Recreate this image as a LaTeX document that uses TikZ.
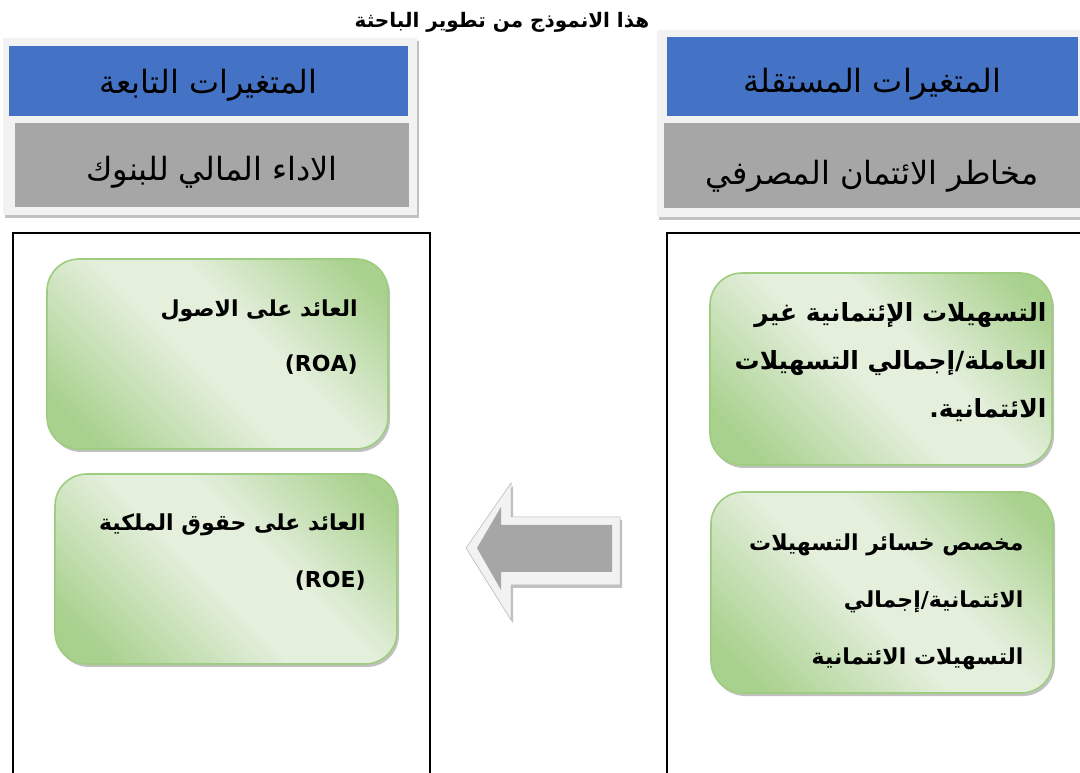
\documentclass[tikz,border=0pt]{standalone}
\usepackage{fontspec}
\usepackage{tikz}
\usetikzlibrary{positioning,shadows,calc}
\newfontfamily\arabicfont[Script=Arabic]{DejaVu Sans}
\TeXXeTstate=1
\newcommand{\ar}[1]{\beginR #1\endR}
\definecolor{hdrblue}{HTML}{4472C4}
\definecolor{hdrgray}{HTML}{A6A6A6}
\definecolor{panel}{HTML}{F2F2F2}
\definecolor{grdark}{HTML}{A9D18E}
\definecolor{grlight}{HTML}{E4EFDC}
\definecolor{grline}{HTML}{9FCD80}
\definecolor{arrowgray}{HTML}{A6A6A6}
\pgfdeclarehorizontalshading{greenglow}{100bp}{color(0bp)=(grdark); color(22bp)=(grdark); color(46bp)=(grlight); color(58bp)=(grlight); color(80bp)=(grdark); color(100bp)=(grdark)}
\tikzset{
  headpanel/.style={fill=panel,drop shadow={shadow xshift=2pt,shadow yshift=-3pt,fill=gray!70,opacity=0.7}},
  bluehead/.style={fill=hdrblue,inner sep=0pt,text depth=0pt,font=\arabicfont\fontsize{32}{38}\selectfont},
  grayhead/.style={fill=hdrgray,inner sep=0pt,text depth=0pt,font=\arabicfont\fontsize{32}{38}\selectfont},
  bigframe/.style={draw=black,line width=1.5pt},
  greenbox/.style={draw=grline,line width=1.6pt,rounded corners=32pt,
                   shading=greenglow,shading angle=45,inner sep=0pt,
                   drop shadow={shadow xshift=2pt,shadow yshift=-3pt,fill=gray!70,opacity=0.7}},
  boxtext/.style={align=right,inner sep=0pt,anchor=north east,
                  font=\arabicfont\bfseries\fontsize{22}{55}\selectfont},
  titletext/.style={font=\arabicfont\bfseries\fontsize{20}{24}\selectfont,inner sep=0pt},
  blockarrow/.style={fill=panel,draw=gray!60,line width=0.5pt,
                     drop shadow={shadow xshift=2pt,shadow yshift=-3pt,fill=gray!70,opacity=0.7}}
}
\begin{document}
\begin{tikzpicture}[x=1pt,y=1pt]
  \useasboundingbox (0,0) rectangle (1080,772);
  \clip (0,0) rectangle (1080,772);

  \node[titletext] (title) at (502,750) {\ar{هذا الانموذج من تطوير الباحثة}};

  \fill[headpanel] (3,557) rectangle (417,734);
  \node[bluehead,minimum width=399pt,minimum height=70pt,text height=26pt] (dephead) at (208.5,691) {\ar{المتغيرات التابعة}};
  \node[grayhead,minimum width=394pt,minimum height=84pt,text height=32pt] (depname) at (212,607) {\ar{الاداء المالي للبنوك}};

  \fill[headpanel] (657,555) rectangle (1100,742);
  \node[bluehead,minimum width=411pt,minimum height=79pt,text height=32pt] (indhead) at (872.5,695.5) {\ar{المتغيرات المستقلة}};
  \node[grayhead,minimum width=416pt,minimum height=85pt,text height=38pt] (indname) at (872,606.5) {\ar{مخاطر الائتمان المصرفي}};

  \draw[bigframe] (13,-20) rectangle (430,539);
  \draw[bigframe] (667,-20) rectangle (1110,539);

  \node[greenbox,minimum width=341pt,minimum height=190pt] (roa) at (217.5,418) {};
  \node[boxtext] (roatext) at ([xshift=-31pt,yshift=-41pt]roa.north east) {\ar{العائد على الاصول}\\(ROA)};
  \node[greenbox,minimum width=342pt,minimum height=190pt] (roe) at (226,203) {};
  \node[boxtext,font=\arabicfont\bfseries\fontsize{22}{57}\selectfont] (roetext) at ([xshift=-32pt,yshift=-40pt]roe.north east) {\ar{العائد على حقوق الملكية}\\(ROE)};

  \node[greenbox,minimum width=342pt,minimum height=192pt] (npl) at (881,403) {};
  \node[boxtext,font=\arabicfont\bfseries\fontsize{25}{48}\selectfont] (npltext) at ([xshift=-6pt,yshift=-30pt]npl.north east)
    {\ar{التسهيلات الإئتمانية غير}\\\ar{العاملة/إجمالي التسهيلات}\\\ar{الائتمانية.}};
  \node[greenbox,minimum width=342pt,minimum height=201pt] (llp) at (882,179.5) {};
  \node[boxtext,font=\arabicfont\bfseries\fontsize{22}{57}\selectfont] (llptext) at ([xshift=-30pt,yshift=-42pt]llp.north east)
    {\ar{مخصص خسائر التسهيلات}\\\ar{الائتمانية/إجمالي}\\\ar{التسهيلات الائتمانية}};

  \filldraw[blockarrow] (466,224) -- (511,289) -- (511,255) -- (620,255) -- (620,187) -- (511,187) -- (511,152) -- cycle;
  \fill[arrowgray] (477,224) -- (501,265) -- (501,247) -- (612,247) -- (612,200) -- (501,200) -- (501,182) -- cycle;
\end{tikzpicture}
\end{document}
